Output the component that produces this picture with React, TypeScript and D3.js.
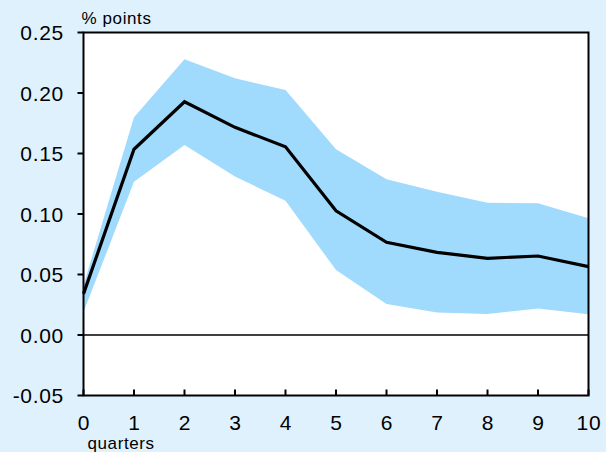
import React from "react";
import * as d3 from "d3";

const quarters = [0, 1, 2, 3, 4, 5, 6, 7, 8, 9, 10];
const central = [0.034, 0.1535, 0.1928, 0.1716, 0.1556, 0.1027, 0.0766, 0.0683, 0.0634, 0.0653, 0.0565];
const upper = [0.041, 0.180, 0.2278, 0.2121, 0.2025, 0.1535, 0.1287, 0.1184, 0.1093, 0.1088, 0.0964];
const lower = [0.019, 0.1267, 0.157, 0.1309, 0.111, 0.0537, 0.0256, 0.0185, 0.0174, 0.022, 0.0171];
const yTicks = [-0.05, 0, 0.05, 0.1, 0.15, 0.2, 0.25];
const xTicks = [0, 1, 2, 3, 4, 5, 6, 7, 8, 9, 10];

const W = 606, H = 452;
const L = 83.5, R = 588.5, T = 32.5, B = 395.5;

export default function App() {
  const x = d3.scaleLinear().domain([0, 10]).range([L, R]);
  const y = d3.scaleLinear().domain([-0.05, 0.25]).range([B, T]);
  const area = d3.area<number>()
    .x((_, i) => x(quarters[i]))
    .y0((_, i) => y(lower[i]))
    .y1((_, i) => y(upper[i]));
  const line = d3.line<number>()
    .x((_, i) => x(quarters[i]))
    .y((d) => y(d));
  const font = "'Liberation Sans', Arial, sans-serif";
  return (
    <svg width={W} height={H} style={{ position: "fixed", left: 0, top: 0, display: "block" }}>
      <rect x={0} y={0} width={W} height={H} fill="#dff1fd" />
      <rect x={L} y={T} width={R - L} height={B - T} fill="#ffffff" />
      <path d={area(central) || ""} fill="#a0dafc" />
      <line x1={L} x2={R} y1={y(0)} y2={y(0)} stroke="#000" strokeWidth={1.5} />
      <path d={line(central) || ""} fill="none" stroke="#000" strokeWidth={3.2} strokeLinejoin="miter" />
      <rect x={L} y={T} width={R - L} height={B - T} fill="none" stroke="#000" strokeWidth={2} />
      {yTicks.map((t) => (
        <g key={"y" + t}>
          <line x1={L - 6} x2={L} y1={y(t)} y2={y(t)} stroke="#000" strokeWidth={2} />
          <text x={64} y={y(t)} dy="0.36em" textAnchor="end" fontFamily={font} fontSize={21} letterSpacing={0.7} fill="#000">
            {t.toFixed(2)}
          </text>
        </g>
      ))}
      {xTicks.map((t) => (
        <g key={"x" + t}>
          <line x1={x(t)} x2={x(t)} y1={B} y2={B - 6} stroke="#000" strokeWidth={2} />
          <text x={x(t) + 0.5} y={430} textAnchor="middle" fontFamily={font} fontSize={21} letterSpacing={0.7} fill="#000">
            {String(t)}
          </text>
        </g>
      ))}
      <text x={81.5} y={23.5} fontFamily={font} fontSize={17} letterSpacing={0.6} fill="#000">% points</text>
      <text x={87.5} y={448.5} fontFamily={font} fontSize={17} letterSpacing={0.6} fill="#000">quarters</text>
    </svg>
  );
}
